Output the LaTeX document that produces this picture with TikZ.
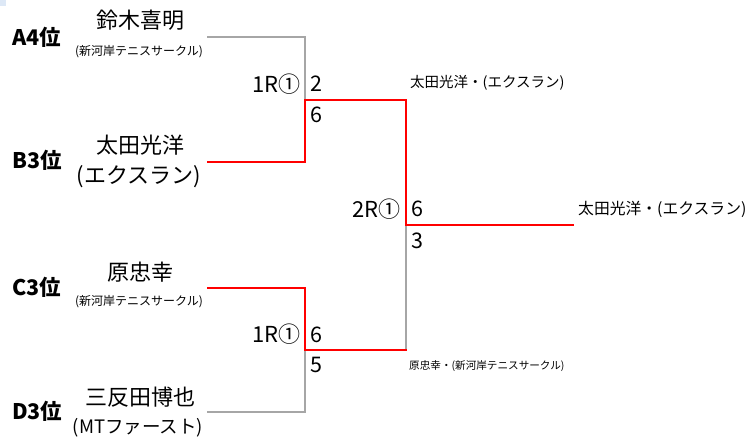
\documentclass[tikz,border=0pt]{standalone}
\usepackage{fontspec}
\setmainfont{Noto Sans CJK JP}
\usetikzlibrary{positioning}
\definecolor{lossgray}{HTML}{A6A6A6}
\definecolor{winred}{HTML}{FF0000}
\definecolor{cornerblue}{HTML}{DDE8F6}
\tikzset{
  seed/.style={anchor=west,inner sep=0pt,font=\fontsize{21.5}{23}\selectfont\bfseries},
  player/.style={inner sep=0pt,font=\fontsize{22}{24}\selectfont},
  club/.style={inner sep=0pt,font=\fontsize{12}{14}\selectfont},
  rnd/.style={anchor=east,inner sep=0pt,font=\fontsize{22}{24}\selectfont},
  score/.style={anchor=west,inner sep=0pt,font=\fontsize{21.5}{23}\selectfont},
  note/.style={anchor=west,inner sep=0pt},
  lose/.style={draw=lossgray,line width=1.6pt},
  win/.style={draw=winred,line width=1.4pt}
}

\begin{document}
\begin{tikzpicture}[x=1pt,y=-1pt,line cap=rect,line join=miter]
\useasboundingbox (0,0) rectangle (746,437);
\fill [cornerblue] (0,0) rectangle (6,6);

% seeds
\node [seed] (sa) at (12,37) {A4位};
\node [seed] (sb) at (12,160) {B3位};
\node [seed] (sc) at (12,287) {C3位};
\node [seed] (sd) at (12,411) {D3位};

% players
\node [player] (pa) at (140,20) {鈴木喜明};
\node [club] (ca) at (139,52) {(新河岸テニスサークル)};
\node [player] (pb) at (140,145) {太田光洋};
\node [player] (cb) at (139,177) {(エクスラン)};
\node [player] (pc) at (140,272) {原忠幸};
\node [club] (cc) at (139,302) {(新河岸テニスサークル)};
\node [player] (pd) at (140,397) {三反田博也};
\node [player,font=\fontsize{18.5}{20}\selectfont] (cd) at (138,428) {(MTファースト)};

% bracket points
\coordinate (ea) at (208,37);
\coordinate (eb) at (208,162);
\coordinate (ec) at (208,288);
\coordinate (ed) at (208,412);
\coordinate (m1) at (305,100);
\coordinate (m2) at (305,350);
\coordinate (fin) at (406,225);
\coordinate (champ) at (573,225);

\draw [lose] (ea) -| (m1);
\draw [lose] (ed) -| (m2);
\draw [lose] (m2 -| fin) -- (fin);
\draw [win] (eb) -| (m1);
\draw [win] (m1) -| (fin);
\draw [win] (m2) -- (m2 -| fin);
\draw [win] (fin) -- (champ);
\draw [win,line width=2.4pt] (ec) -| (m2);

% rounds and scores
\node [rnd] (r1a) at (301,84) {1R①};
\node [rnd] (r1b) at (301,334) {1R①};
\node [rnd] (r2) at (401,209) {2R①};
\node [score] (s1) at (310,84) {2};
\node [score] (s2) at (310,115) {6};
\node [score] (s3) at (310,335) {6};
\node [score] (s4) at (310,365) {5};
\node [score] (s5) at (411,209) {6};
\node [score] (s6) at (411,241) {3};

% winners
\node [note,font=\fontsize{14.5}{16}\selectfont] (w1) at (410,83) {太田光洋・(エクスラン)};
\node [note,font=\fontsize{10.6}{12}\selectfont] (w2) at (409,366) {原忠幸・(新河岸テニスサークル)};
\node [note,font=\fontsize{15.8}{17}\selectfont] (w3) at (578,209) {太田光洋・(エクスラン)};
\end{tikzpicture}
\end{document}
